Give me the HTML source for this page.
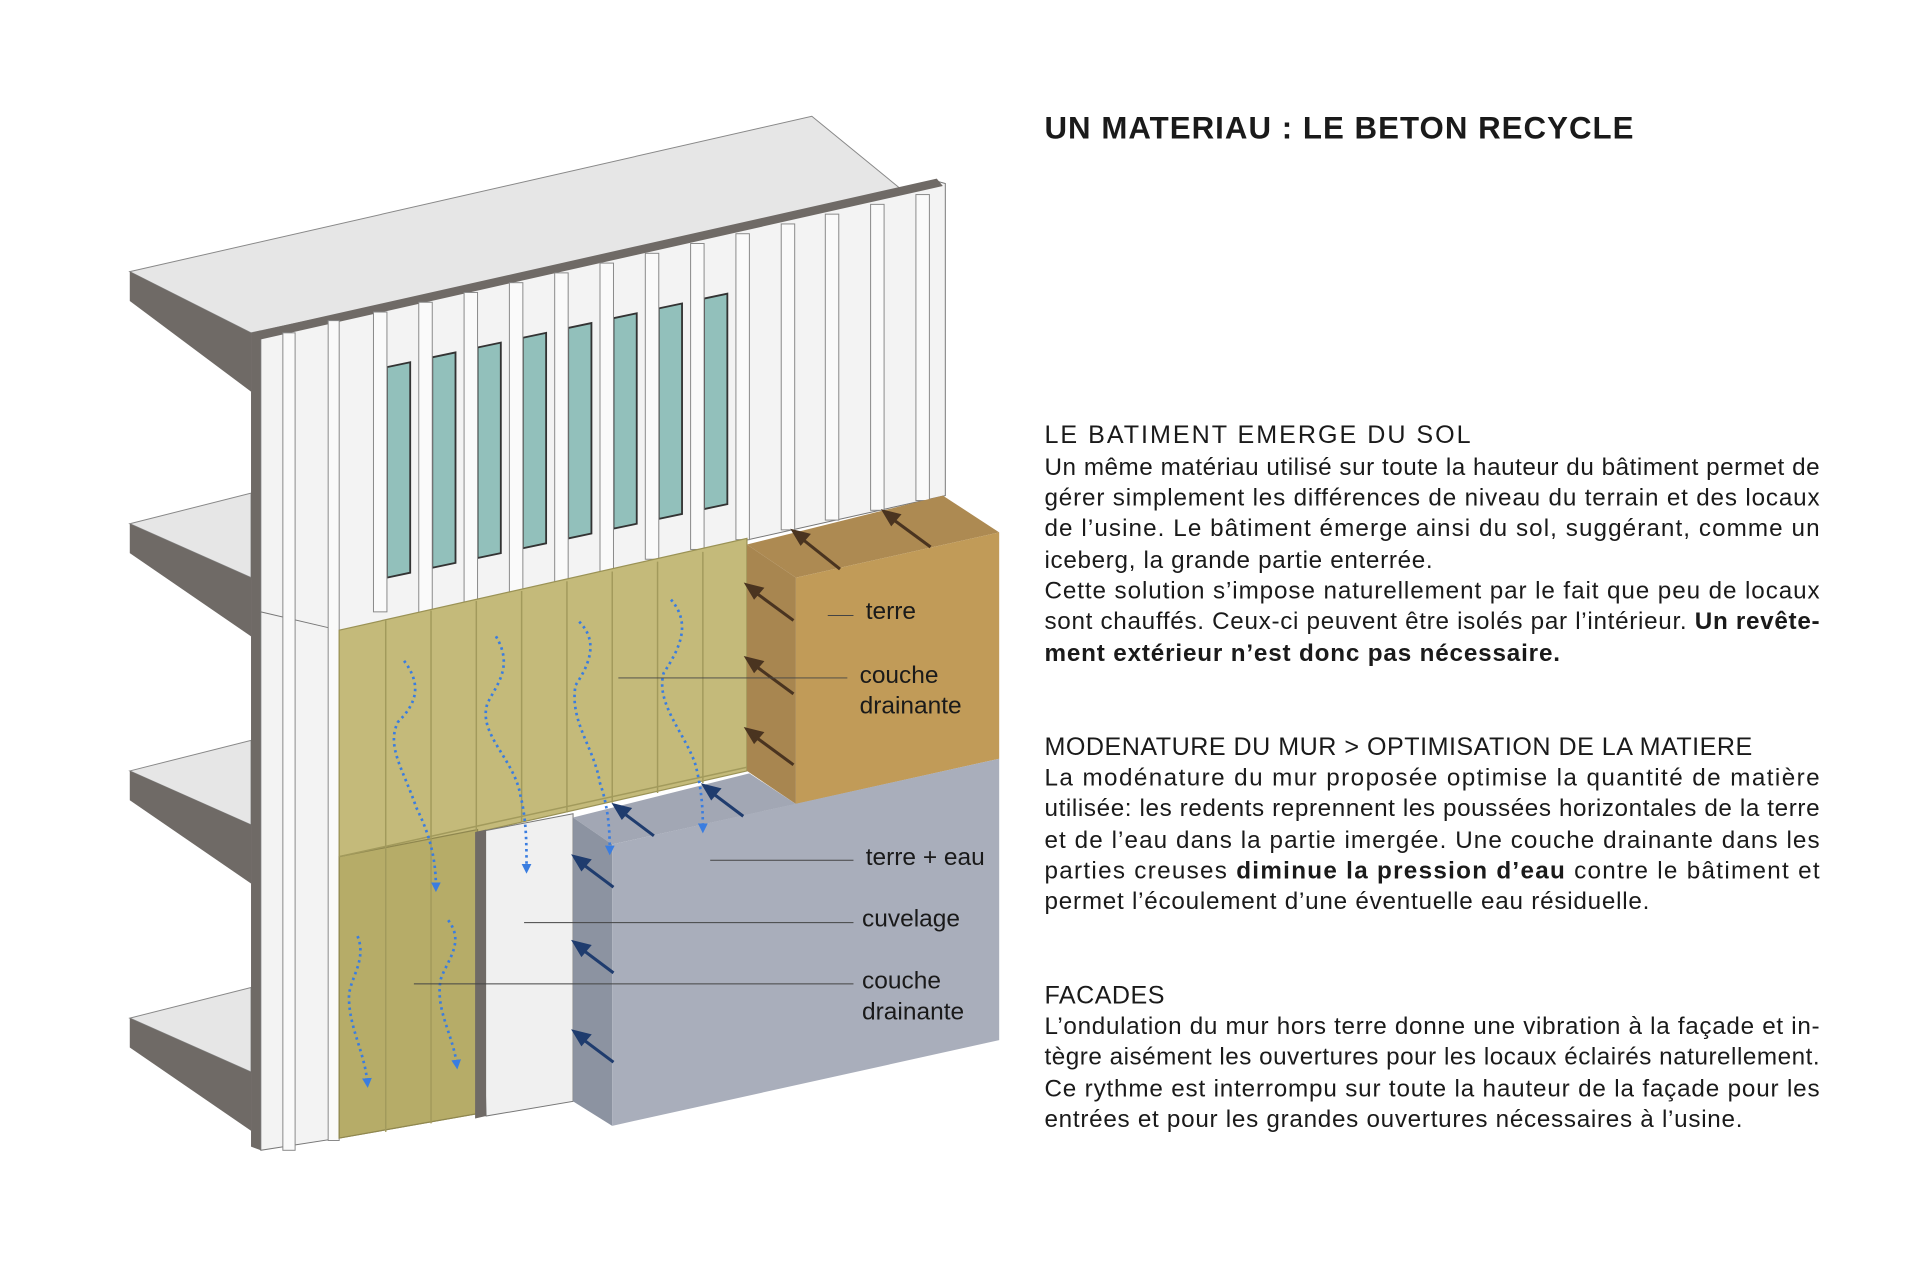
<!DOCTYPE html>
<html><head><meta charset="utf-8"><style>
html,body{margin:0;padding:0;background:#fff;}
svg{display:block;}
text{font-family:"Liberation Sans",sans-serif;fill:#1a1a1a;}
</style></head><body>
<svg width="1920" height="1280" viewBox="0 0 1568 1046" preserveAspectRatio="none" xmlns="http://www.w3.org/2000/svg">
<defs>
<marker id="ab" markerWidth="8" markerHeight="8" refX="4" refY="4" orient="auto" markerUnits="userSpaceOnUse"><path d="M0,0 L8,4 L0,8 z" fill="#3a7de0"/></marker>
</defs>
<rect width="1568" height="1046" fill="#fff"/>
<polygon points="106,222 663,95 740,158 205,272" fill="#e6e6e6" stroke="#888" stroke-width="0.8"/>
<polygon points="106,222 205,272 205,320 106,246" fill="#6f6a66"/>
<g fill="#e6e6e6" stroke="#888" stroke-width="0.8">
<polygon points="106,428 205,403 205,472"/>
<polygon points="106,630 205,605 205,674"/>
<polygon points="106,832 205,807 205,876"/>
</g>
<g fill="#6f6a66">
<polygon points="106,428 205,472 205,520 106,452"/>
<polygon points="106,630 205,674 205,722 106,654"/>
<polygon points="106,832 205,876 205,924 106,856"/>
</g>
<polygon points="205,272 213,270 213,940 205,937" fill="#6f6a66"/>
<polygon points="213,272 765,148 772,150 772,405 213,530" fill="#f3f3f3" stroke="#777" stroke-width="0.8"/>
<polygon points="213,500 277,515 277,930 213,940" fill="#f3f3f3" stroke="#777" stroke-width="0.8"/>
<polygon points="205,272 765,146 770,152 210,278" fill="#6f6a66"/>
<g fill="#92c0bb" stroke="#333" stroke-width="1.5">
<polygon points="316,300 335,296 335,468 316,472"/>
<polygon points="353,292 372,288 372,460 353,464"/>
<polygon points="390,284 409,280 409,452 390,456"/>
<polygon points="427,276 446,272 446,444 427,448"/>
<polygon points="464,268 483,264 483,436 464,440"/>
<polygon points="501,260 520,256 520,428 501,432"/>
<polygon points="538,252 557,248 557,420 538,424"/>
<polygon points="575,244 594,240 594,412 575,416"/>
</g>
<g fill="#fafafa" stroke="#888" stroke-width="0.8">
<rect x="231" y="272" width="10" height="668"/>
<rect x="268" y="262" width="9" height="670"/>
<rect x="305" y="255" width="11" height="245"/>
<rect x="342" y="247" width="11" height="255"/>
<rect x="379" y="239" width="11" height="255"/>
<rect x="416" y="231" width="11" height="255"/>
<rect x="453" y="223" width="11" height="255"/>
<rect x="490" y="215" width="11" height="255"/>
<rect x="527" y="207" width="11" height="250"/>
<rect x="564" y="199" width="11" height="250"/>
<rect x="601" y="191" width="11" height="250"/>
<rect x="638" y="183" width="11" height="250"/>
<rect x="674" y="175" width="11" height="250"/>
<rect x="711" y="167" width="11" height="250"/>
<rect x="748" y="159" width="11" height="250"/>
</g>
<polygon points="277,515 610,440 610,630 390,680 390,910 277,930" fill="#c4ba7a" stroke="#9a9255" stroke-width="1"/>
<polygon points="277,700 390,678 390,910 277,930" fill="#b6ac68" stroke="#8f874f" stroke-width="1"/>
<g stroke="#a29a5c" stroke-width="1.2">
<line x1="315" y1="507" x2="315" y2="925"/><line x1="352" y1="499" x2="352" y2="918"/>
<line x1="389" y1="491" x2="389" y2="680"/><line x1="426" y1="483" x2="426" y2="672"/>
<line x1="463" y1="475" x2="463" y2="664"/><line x1="500" y1="467" x2="500" y2="656"/>
<line x1="537" y1="459" x2="537" y2="648"/><line x1="574" y1="451" x2="574" y2="640"/>
<line x1="277" y1="700" x2="390" y2="675"/><line x1="390" y1="675" x2="610" y2="627"/>
</g>
<polygon points="610,445 770,405 816,435 650,472" fill="#ad8a52"/>
<polygon points="610,445 650,472 650,657 610,630" fill="#a88650"/>
<polygon points="650,472 816,435 816,620 650,657" fill="#c19b58"/>
<polygon points="390,680 468,665 468,900 397,912" fill="#f0f0f0" stroke="#777" stroke-width="0.8"/>
<polygon points="388,680 397,678 397,912 388,914" fill="#6f6a66"/>
<polygon points="468,668 612,632 650,657 500,690" fill="#a2a7b4"/>
<polygon points="468,668 500,690 500,920 468,900" fill="#8c93a1"/>
<polygon points="500,690 816,620 816,850 500,920" fill="#a9aebb"/>
<g stroke="#4a3420" stroke-width="2.5" fill="#4a3420">
<line x1="686" y1="465" x2="652" y2="438"/><polygon points="648,434 660,437 654,444"/>
<line x1="760" y1="447" x2="726" y2="422"/><polygon points="722,418 734,421 728,428"/>
<line x1="648" y1="507" x2="614" y2="482"/><polygon points="610,478 622,481 616,488"/>
<line x1="648" y1="567" x2="614" y2="542"/><polygon points="610,538 622,541 616,548"/>
<line x1="648" y1="625" x2="614" y2="600"/><polygon points="610,596 622,599 616,606"/>
</g>
<g stroke="#1f3c6e" stroke-width="2.5" fill="#1f3c6e">
<line x1="534" y1="683" x2="506" y2="662"/><polygon points="502,658 514,661 508,668"/>
<line x1="607" y1="667" x2="579" y2="646"/><polygon points="575,642 587,645 581,652"/>
<line x1="501" y1="725" x2="473" y2="704"/><polygon points="469,700 481,703 475,710"/>
<line x1="501" y1="795" x2="473" y2="774"/><polygon points="469,770 481,773 475,780"/>
<line x1="501" y1="868" x2="473" y2="847"/><polygon points="469,843 481,846 475,853"/>
</g>
<g fill="none" stroke="#3a7de0" stroke-width="2.2" stroke-dasharray="2 3" marker-end="url(#ab)">
<path d="M330,540 C345,560 340,575 325,590 C315,610 330,630 340,660 C350,680 356,700 356,725"/>
<path d="M405,520 C420,545 405,560 398,575 C390,600 420,620 425,650 C430,670 430,690 430,710"/>
<path d="M473,508 C490,525 480,545 470,560 C465,590 485,610 490,640 C497,660 498,680 498,695"/>
<path d="M548,490 C565,510 555,530 542,550 C535,575 560,600 568,625 C573,645 574,660 574,677"/>
<path d="M292,765 C300,785 285,800 285,815 C285,840 298,860 300,885"/>
<path d="M366,752 C380,770 365,785 360,800 C355,825 370,845 373,870"/>
</g>
<g stroke="#444" stroke-width="0.8">
<line x1="676" y1="503" x2="697" y2="503"/>
<line x1="505" y1="554" x2="692" y2="554"/>
<line x1="580" y1="703" x2="697" y2="703"/>
<line x1="428" y1="754" x2="697" y2="754"/>
<line x1="338" y1="804" x2="697" y2="804"/>
</g>
<g font-size="20">
<text x="707" y="506">terre</text>
<text x="702" y="558">couche</text><text x="702" y="583">drainante</text>
<text x="707" y="707">terre + eau</text>
<text x="704" y="757">cuvelage</text>
<text x="704" y="808">couche</text><text x="704" y="833">drainante</text>
</g>
<text x="853" y="113" font-size="25.5" font-weight="bold" textLength="481" lengthAdjust="spacing">UN MATERIAU : LE BETON RECYCLE</text>
<g font-size="19.8">
<text x="853" y="362" font-size="20.5" textLength="348">LE BATIMENT EMERGE DU SOL</text>
<text x="853" y="388" textLength="633">Un même matériau utilisé sur toute la hauteur du bâtiment permet de</text>
<text x="853" y="413" textLength="633">gérer simplement les différences de niveau du terrain et des locaux</text>
<text x="853" y="438" textLength="633">de l’usine. Le bâtiment émerge ainsi du sol, suggérant, comme un</text>
<text x="853" y="464" textLength="317">iceberg, la grande partie enterrée.</text>
<text x="853" y="489" textLength="633">Cette solution s’impose naturellement par le fait que peu de locaux</text>
<text x="853" y="514" textLength="633">sont chauffés. Ceux-ci peuvent être isolés par l’intérieur. <tspan font-weight="bold">Un revête-</tspan></text>
<text x="853" y="540" font-weight="bold" textLength="421">ment extérieur n’est donc pas nécessaire.</text>
<text x="853" y="617" font-size="20.5" textLength="578">MODENATURE DU MUR &gt; OPTIMISATION DE LA MATIERE</text>
<text x="853" y="642" textLength="633">La modénature du mur proposée optimise la quantité de matière</text>
<text x="853" y="667" textLength="633">utilisée: les redents reprennent les poussées horizontales de la terre</text>
<text x="853" y="693" textLength="633">et de l’eau dans la partie imergée. Une couche drainante dans les</text>
<text x="853" y="718" textLength="633">parties creuses <tspan font-weight="bold">diminue la pression d’eau</tspan> contre le bâtiment et</text>
<text x="853" y="743" textLength="494">permet l’écoulement d’une éventuelle eau résiduelle.</text>
<text x="853" y="820" font-size="20.5" textLength="98">FACADES</text>
<text x="853" y="845" textLength="633">L’ondulation du mur hors terre donne une vibration à la façade et in-</text>
<text x="853" y="870" textLength="633">tègre aisément les ouvertures pour les locaux éclairés naturellement.</text>
<text x="853" y="896" textLength="633">Ce rythme est interrompu sur toute la hauteur de la façade pour les</text>
<text x="853" y="921" textLength="570">entrées et pour les grandes ouvertures nécessaires à l’usine.</text>
</g>
</svg>
</body></html>
